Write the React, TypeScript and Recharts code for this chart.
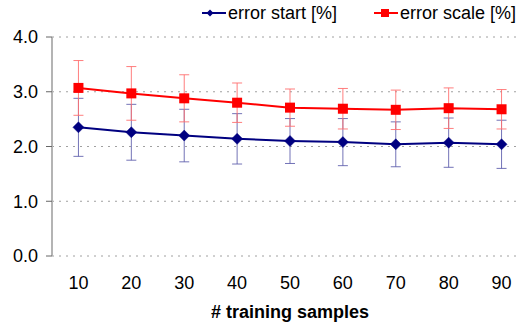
import React from 'react';
import { LineChart, Line, XAxis, YAxis, CartesianGrid, ErrorBar, Label } from 'recharts';

const samples = [10, 20, 30, 40, 50, 60, 70, 80, 90];
const errorStart = [2.35, 2.26, 2.2, 2.14, 2.1, 2.08, 2.04, 2.07, 2.04];
const errorStartDev = [0.53, 0.51, 0.48, 0.46, 0.41, 0.43, 0.41, 0.45, 0.44];
const errorScale = [3.07, 2.97, 2.88, 2.8, 2.71, 2.69, 2.67, 2.7, 2.68];
const errorScaleDev = [0.5, 0.49, 0.43, 0.36, 0.34, 0.37, 0.36, 0.37, 0.36];
const yTicks = [0, 1, 2, 3, 4];
const xBoundaryTicks = [5, 15, 25, 35, 45, 55, 65, 75, 85, 95];
const xDomain = [5, 95];
const seriesNames = ['error start [%]', 'error scale [%]'];
const xTitle = '# training samples';

const BLUE = '#000080';
const RED = '#ff0000';
const FONT = '"Liberation Sans", Arial, sans-serif';
const FS = 18;

const data = samples.map((n, i) => ({
  n,
  start: errorStart[i],
  startDev: errorStartDev[i],
  scale: errorScale[i],
  scaleDev: errorScaleDev[i],
}));

const DiamondDot = (props: any) => {
  const { cx, cy, index } = props;
  if (cx == null || cy == null) return <g key={index} />;
  const r = 5.5;
  return (
    <path
      key={index}
      d={`M${cx},${cy - r} L${cx + r},${cy} L${cx},${cy + r} L${cx - r},${cy} Z`}
      fill={BLUE}
      stroke={BLUE}
      strokeWidth={0.5}
    />
  );
};

const SquareDot = (props: any) => {
  const { cx, cy, index } = props;
  if (cx == null || cy == null) return <g key={index} />;
  const s = 10;
  return <rect key={index} x={cx - s / 2} y={cy - s / 2} width={s} height={s} fill={RED} />;
};

const LegendIcon = ({ kind }: { kind: 'diamond' | 'square' }) => (
  <svg width={24} height={14} style={{ display: 'block' }}>
    <line x1={0} y1={7} x2={24} y2={7} stroke={kind === 'diamond' ? BLUE : RED} strokeWidth={2} />
    {kind === 'diamond' ? (
      <path d="M8,3.5 L11.5,7 L8,10.5 L4.5,7 Z" fill={BLUE} />
    ) : (
      <rect x={7} y={3} width={8} height={8} fill={RED} />
    )}
  </svg>
);

export default function App() {
  return (
    <div
      style={{
        position: 'absolute',
        left: 0,
        top: 0,
        width: 521,
        height: 329,
        overflow: 'hidden',
        background: '#fff',
        fontFamily: FONT,
      }}
    >
      <LineChart
        width={540}
        height={329}
        data={data}
        margin={{ top: 37, right: 12, left: 0, bottom: 0 }}
      >
        <CartesianGrid
          vertical={false}
          stroke="#a0a0a0"
          strokeDasharray="2 5"
          xAxisId="lab"
        />
        <XAxis
          xAxisId="tk"
          type="number"
          dataKey="n"
          domain={xDomain}
          ticks={xBoundaryTicks}
          allowDataOverflow
          height={0}
          tick={false}
          tickSize={6}
          tickLine={{ stroke: '#666' }}
          axisLine={{ stroke: '#666' }}
        />
        <XAxis
          xAxisId="lab"
          type="number"
          dataKey="n"
          domain={xDomain}
          ticks={samples}
          allowDataOverflow
          height={73}
          tickLine={false}
          axisLine={false}
          tickSize={0}
          tickMargin={20}
          tick={{ fill: '#000', fontSize: FS, fontFamily: FONT }}
        >
          <Label
            value={xTitle}
            position="insideBottom"
            offset={11}
            style={{ fontWeight: 'bold', fontSize: FS, fontFamily: FONT, fill: '#000' }}
          />
        </XAxis>
        <YAxis
          width={52}
          domain={[0, 4]}
          ticks={yTicks}
          allowDataOverflow
          tickFormatter={(v: number) => v.toFixed(1)}
          tickSize={6}
          tickMargin={8}
          tickLine={{ stroke: '#666' }}
          axisLine={{ stroke: '#b4b4b4', strokeWidth: 2 }}
          tick={{ fill: '#000', fontSize: FS, fontFamily: FONT }}
        />
        <Line
          xAxisId="lab"
          type="linear"
          dataKey="start"
          name={seriesNames[0]}
          stroke={BLUE}
          strokeWidth={2}
          dot={DiamondDot}
          activeDot={false}
          isAnimationActive={false}
        >
          <ErrorBar dataKey="startDev" direction="y" width={5} stroke="#5a5aaa" strokeOpacity={0.85} strokeWidth={1} />
        </Line>
        <Line
          xAxisId="lab"
          type="linear"
          dataKey="scale"
          name={seriesNames[1]}
          stroke={RED}
          strokeWidth={2}
          dot={SquareDot}
          activeDot={false}
          isAnimationActive={false}
        >
          <ErrorBar dataKey="scaleDev" direction="y" width={5} stroke="#ff7070" strokeOpacity={0.9} strokeWidth={1} />
        </Line>
      </LineChart>
      <div
        style={{
          position: 'absolute',
          top: 3,
          left: 202,
          display: 'flex',
          alignItems: 'center',
          fontSize: FS,
          lineHeight: '20px',
          color: '#000',
          whiteSpace: 'nowrap',
        }}
      >
        <LegendIcon kind="diamond" />
        <span style={{ marginLeft: 2 }}>{seriesNames[0]}</span>
        <span style={{ marginLeft: 37 }}>
          <LegendIcon kind="square" />
        </span>
        <span style={{ marginLeft: 2 }}>{seriesNames[1]}</span>
      </div>
    </div>
  );
}
